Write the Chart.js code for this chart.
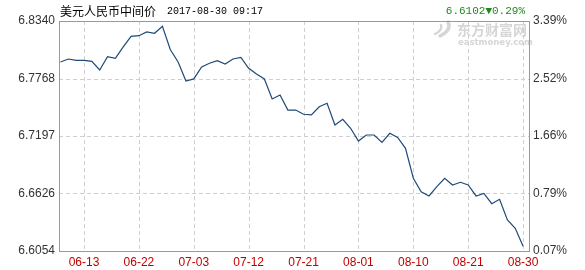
<!DOCTYPE html>
<html><head><meta charset="utf-8">
<script src="https://cdn.jsdelivr.net/npm/chart.js@4/dist/chart.umd.min.js"></script>
<style>html,body{margin:0;padding:0;background:#fff}#wrap{width:585px;height:270px;position:relative}</style>
</head><body><div id="wrap"><canvas id="c" width="585" height="270"></canvas></div>
<script>
const dates = ["06-08","06-09","06-12","06-13","06-14","06-15","06-16","06-19","06-20","06-21","06-22","06-23","06-26","06-27","06-28","06-29","06-30",
"07-03","07-04","07-05","07-06","07-07","07-10","07-11","07-12","07-13","07-14","07-17","07-18","07-19","07-20","07-21","07-24","07-25","07-26","07-27","07-28","07-31",
"08-01","08-02","08-03","08-04","08-07","08-08","08-09","08-10","08-11","08-14","08-15","08-16","08-17","08-18","08-21","08-22","08-23","08-24","08-25","08-28","08-29","08-30"];
const rates = [6.7933,6.7962,6.7949,6.7949,6.7939,6.7853,6.7985,6.7969,6.8082,6.8188,6.8194,6.8231,6.8218,6.8287,6.8057,6.7933,6.7744,
6.7764,6.7883,6.7920,6.7945,6.7913,6.7962,6.7979,6.7870,6.7813,6.7764,6.7565,6.7605,6.7455,6.7455,6.7413,6.7406,6.7488,6.7522,6.7306,6.7363,6.7274,
6.7147,6.7207,6.7207,6.7134,6.7224,6.7182,6.7075,6.6777,6.6643,6.6601,6.6693,6.6777,6.6710,6.6737,6.6710,6.6601,6.6627,6.6524,6.6568,6.6362,6.6280,6.6102];
const xTickDates = ["06-13","06-22","07-03","07-12","07-21","08-01","08-10","08-21","08-30"];
const yTicks = [6.6054,6.6626,6.7197,6.7768,6.8340];
const pctTicks = ["0.07%","0.79%","1.66%","2.52%","3.39%"];
const titleText = "美元人民币中间价";
const timeText = "2017-08-30 09:17";
const lastText = "6.6102▼0.29%";

const pts = rates.map((v,i)=>({x:i,y:v}));
const xTickIdx = xTickDates.map(d=>dates.indexOf(d));

const decor = {
  id:'decor',
  beforeDatasetsDraw(chart){
    const ctx = chart.ctx, a = chart.chartArea;
    const xs = chart.scales.x, ys = chart.scales.y;
    ctx.save();
    // dashed grid
    ctx.strokeStyle = '#cfcfcf';
    ctx.lineWidth = 1;
    ctx.setLineDash([4,3]);
    xs.ticks.forEach(t=>{
      const px = Math.round(xs.getPixelForValue(t.value))+0.5;
      ctx.beginPath(); ctx.moveTo(px, a.top); ctx.lineTo(px, a.bottom); ctx.stroke();
    });
    ys.ticks.forEach((t,i)=>{
      if (i===0 || i===ys.ticks.length-1) return;
      const py = Math.round(ys.getPixelForValue(t.value))+0.5;
      ctx.beginPath(); ctx.moveTo(a.left, py); ctx.lineTo(a.right, py); ctx.stroke();
    });
    ctx.setLineDash([]);
    // watermark
    ctx.fillStyle = '#d6d6d6';
    ctx.strokeStyle = '#d6d6d6';
    ctx.font = 'bold 14px "Noto Sans CJK SC"';
    ctx.textBaseline = 'middle';
    ctx.textAlign = 'left';
    ctx.fillText('东方财富网', 457, 30);
    ctx.font = 'bold 8.5px "DejaVu Sans"';
    ctx.fillText('eastmoney.com', 458, 43);
    ctx.lineCap = 'round';
    ctx.lineWidth = 3.5;
    ctx.beginPath(); ctx.moveTo(448, 22); ctx.quadraticCurveTo(452, 30, 440, 36); ctx.stroke();
    ctx.lineWidth = 2.5;
    ctx.beginPath(); ctx.moveTo(441, 25); ctx.quadraticCurveTo(443, 30, 435, 34); ctx.stroke();
    ctx.restore();
  },
  afterDraw(chart){
    const ctx = chart.ctx, a = chart.chartArea;
    ctx.save();
    ctx.strokeStyle = '#999';
    ctx.lineWidth = 1;
    ctx.strokeRect(Math.round(a.left)+0.5, Math.round(a.top)+0.5, Math.round(a.right-a.left)-1, Math.round(a.bottom-a.top));
    ctx.textBaseline = 'middle';
    ctx.fillStyle = '#000';
    ctx.font = '12px "Noto Sans CJK SC"';
    ctx.textAlign = 'left';
    ctx.fillText(titleText, 60, 11);
    ctx.font = '10px "Liberation Mono"';
    ctx.fillText(timeText, 167, 11);
    ctx.fillStyle = '#1a8a1a';
    ctx.font = '11px "Liberation Mono"';
    ctx.textAlign = 'right';
    ctx.fillText(lastText, 525, 11);
    ctx.restore();
  }
};

const hiddenGrid = {drawTicks:false, drawOnChartArea:false, color:'rgba(0,0,0,0)'};

new Chart(document.getElementById('c'), {
  type:'line',
  data:{datasets:[{data:pts, borderColor:'#1d4a78', borderWidth:1.2, pointRadius:0, tension:0, fill:false}]},
  options:{
    responsive:false, animation:false, devicePixelRatio:1,
    layout:{padding:{top:21,left:0,right:0,bottom:0}},
    plugins:{legend:{display:false}, tooltip:{enabled:false}},
    scales:{
      x:{type:'linear', min:-0.19, max:59.88,
        afterBuildTicks(s){ s.ticks = xTickIdx.map(v=>({value:v})); },
        afterFit(s){ s.height = 19; },
        ticks:{autoSkip:false, maxRotation:0, padding:4, color:'#c00000', font:{family:'"Liberation Sans"', size:12},
          callback:(v)=>dates[v]},
        grid:hiddenGrid,
        border:{display:false}
      },
      y:{type:'linear', position:'left', min:yTicks[0], max:yTicks[yTicks.length-1],
        afterBuildTicks(s){ s.ticks = yTicks.map(v=>({value:v})); },
        afterFit(s){ s.width = 59; },
        ticks:{padding:4, color:'#333', font:{family:'"Liberation Sans"', size:12}, callback:(v)=>v.toFixed(4)},
        grid:hiddenGrid,
        border:{display:false}
      },
      y2:{type:'linear', position:'right', min:yTicks[0], max:yTicks[yTicks.length-1],
        afterBuildTicks(s){ s.ticks = yTicks.map(v=>({value:v})); },
        afterFit(s){ s.width = 55; },
        ticks:{padding:3, color:'#333', font:{family:'"Liberation Sans"', size:12}, callback:(v)=>pctTicks[yTicks.indexOf(v)]},
        grid:hiddenGrid,
        border:{display:false}
      }
    }
  },
  plugins:[decor]
});
</script></body></html>
